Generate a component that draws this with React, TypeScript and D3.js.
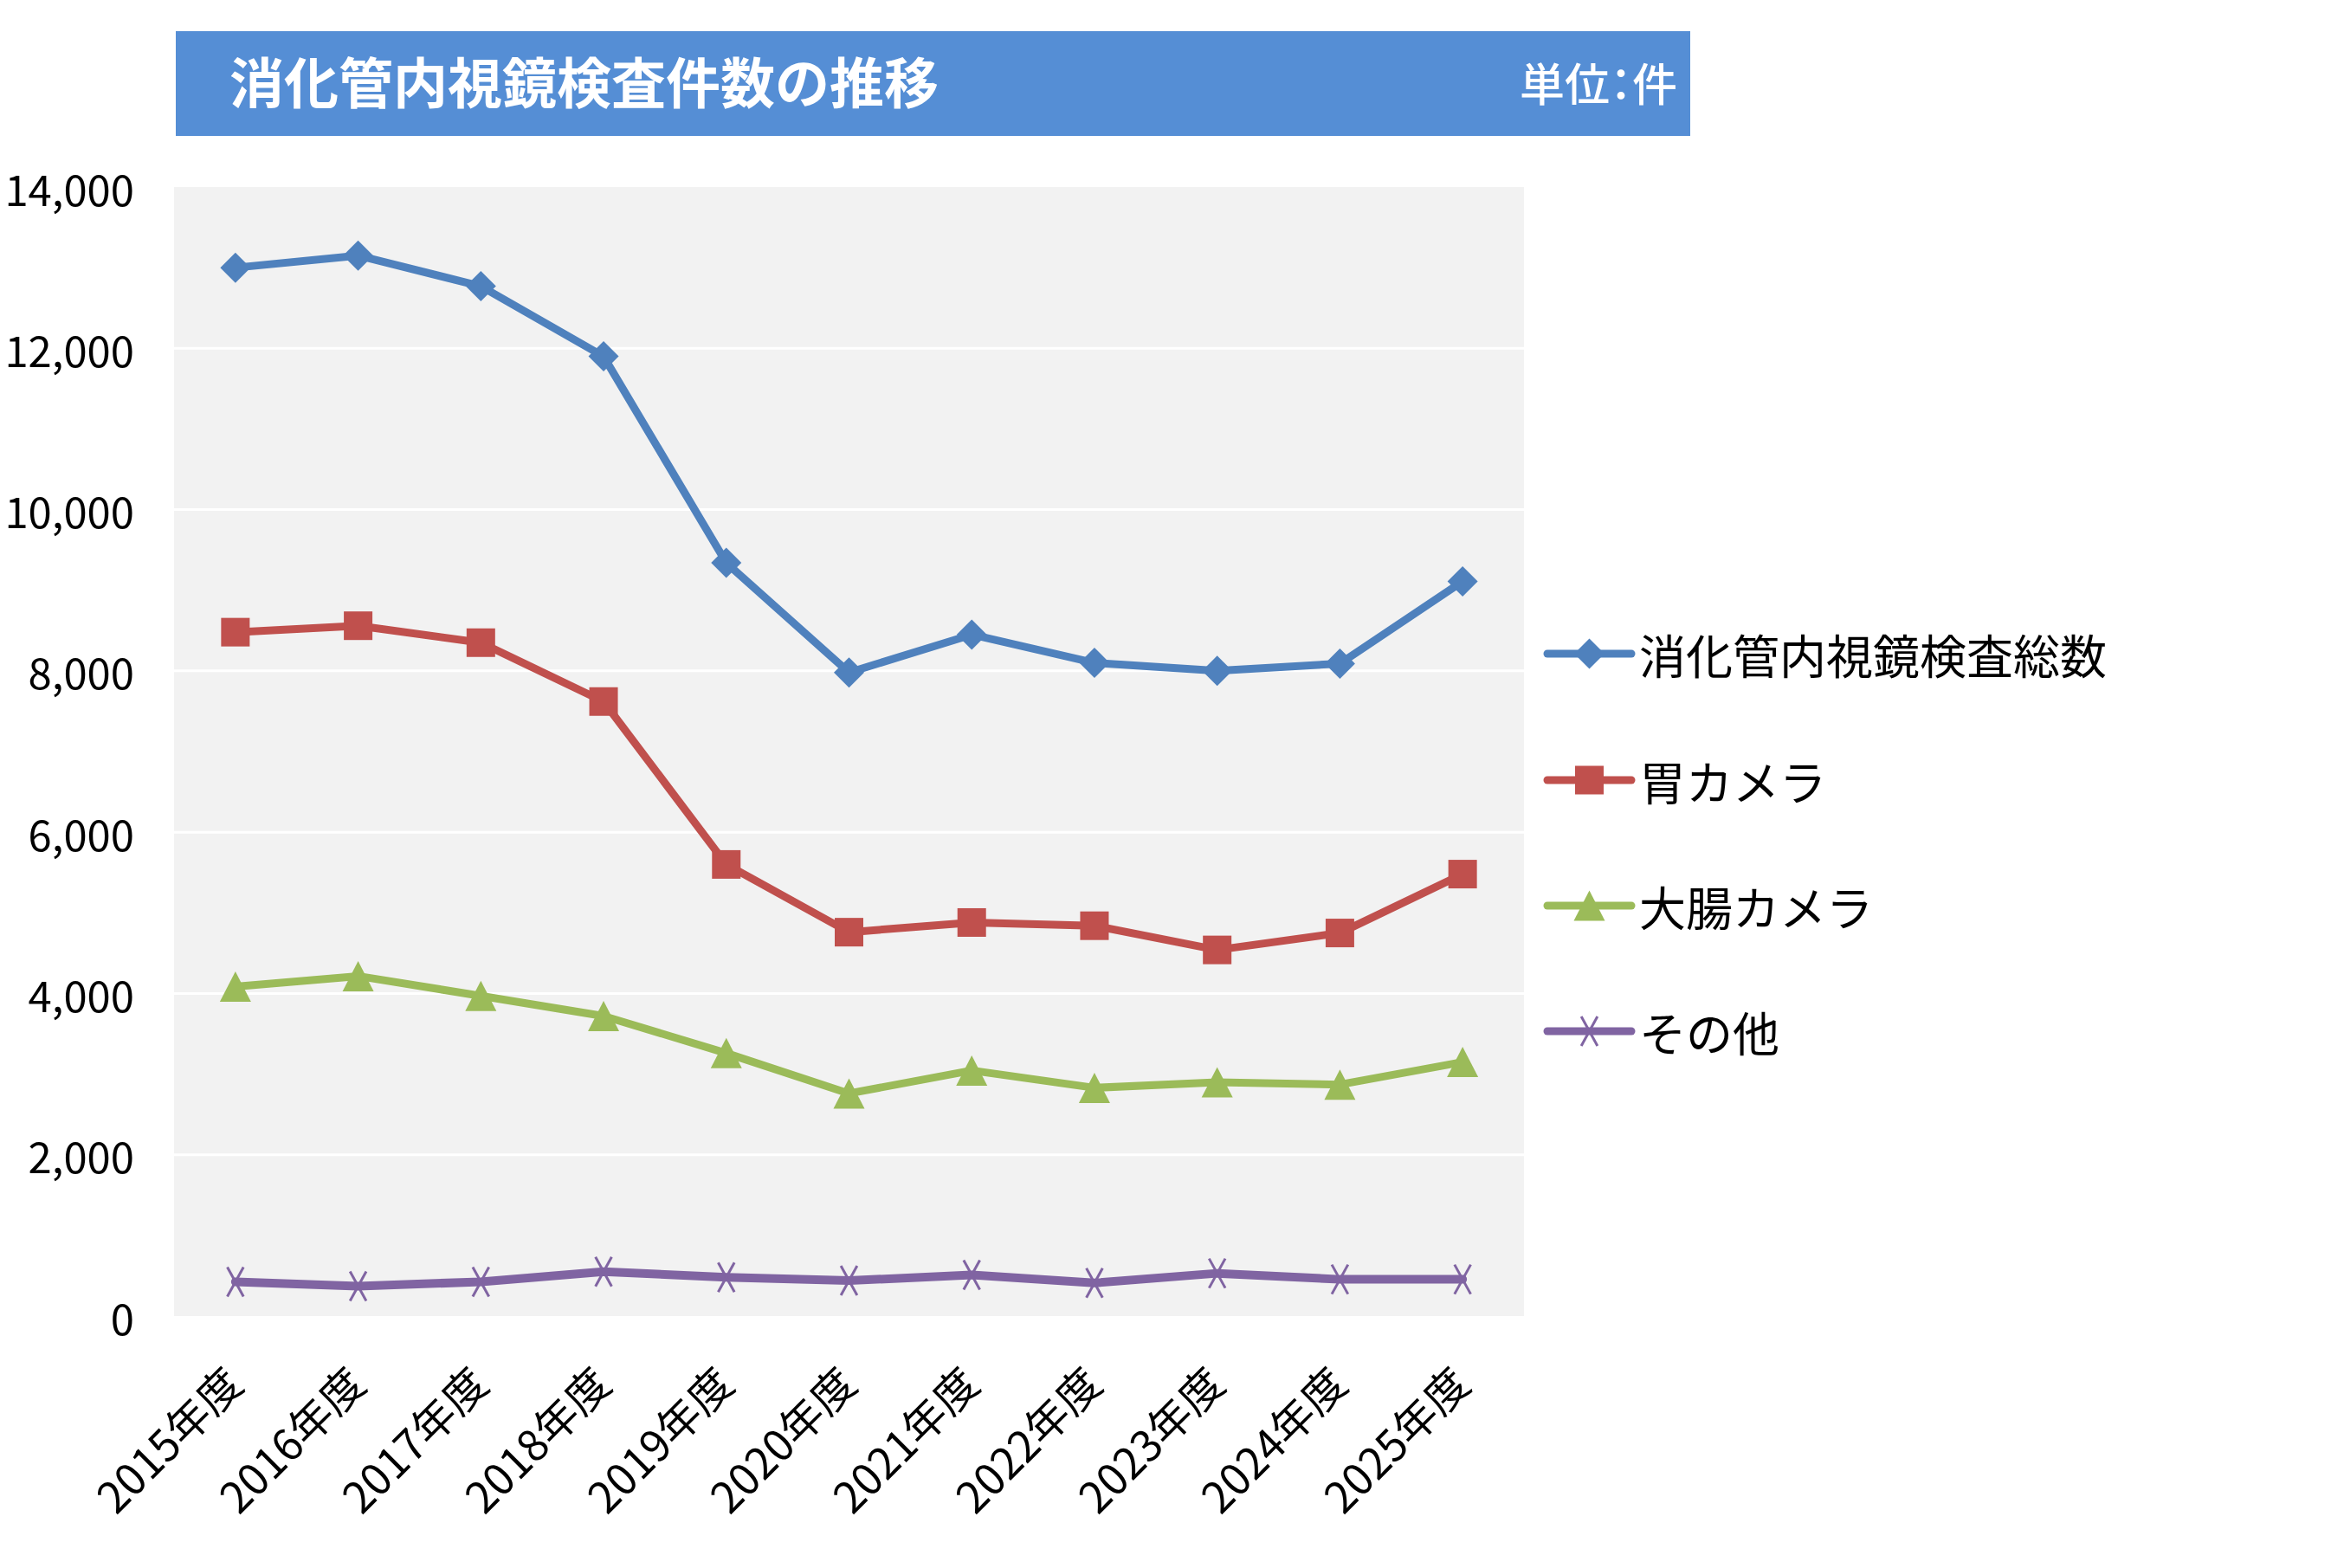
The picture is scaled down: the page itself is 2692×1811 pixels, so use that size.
import React from "react";
import * as d3 from "d3";

const categories = ["2015年度","2016年度","2017年度","2018年度","2019年度","2020年度","2021年度","2022年度","2023年度","2024年度","2025年度"];
const totalValues = [13000, 13150, 12770, 11900, 9340, 7980, 8450, 8100, 8000, 8090, 9110];
const stomachValues = [8480, 8560, 8350, 7620, 5600, 4760, 4880, 4840, 4540, 4750, 5480];
const colonValues = [4085, 4215, 3970, 3720, 3260, 2760, 3045, 2830, 2900, 2870, 3150];
const otherValues = [425, 370, 425, 550, 480, 440, 510, 410, 530, 455, 455];
const yTicks = [0, 2000, 4000, 6000, 8000, 10000, 12000, 14000];
const seriesNames = ["消化管内視鏡検査総数", "胃カメラ", "大腸カメラ", "その他"];
const titleText = "消化管内視鏡検査件数の推移";
const unitText = "単位：件";

const W = 2692, H = 1811;
const plot = { left: 201, right: 1760, top: 216, bottom: 1520 };
const FONT = "'Noto Sans CJK JP', 'Noto Sans', sans-serif";

const series = [
  { name: seriesNames[0], values: totalValues, color: "#4F81BD", marker: "diamond" },
  { name: seriesNames[1], values: stomachValues, color: "#C0504D", marker: "square" },
  { name: seriesNames[2], values: colonValues, color: "#9BBB59", marker: "triangle" },
  { name: seriesNames[3], values: otherValues, color: "#8064A2", marker: "x" },
];

function Marker({ type, x, y, color }: { type: string; x: number; y: number; color: string }) {
  if (type === "diamond") {
    const r = 17.5;
    return <path d={`M${x},${y - r}L${x + r},${y}L${x},${y + r}L${x - r},${y}Z`} fill={color} />;
  }
  if (type === "square") {
    const r = 16.5;
    return <rect x={x - r} y={y - r} width={2 * r} height={2 * r} fill={color} />;
  }
  if (type === "triangle") {
    const w = 18, h = 17.5;
    return <path d={`M${x},${y - h}L${x + w},${y + h}L${x - w},${y + h}Z`} fill={color} />;
  }
  const r = 17;
  return (
    <g stroke={color} strokeWidth={3}>
      <line x1={x - r * 0.55} y1={y - r} x2={x + r * 0.55} y2={y + r} />
      <line x1={x + r * 0.55} y1={y - r} x2={x - r * 0.55} y2={y + r} />
    </g>
  );
}

export default function App() {
  const x = d3.scalePoint<string>().domain(categories).range([plot.left, plot.right]).padding(0.5);
  const y = d3.scaleLinear().domain([0, 14000]).range([plot.bottom, plot.top]);
  const fmt = d3.format(",");
  const line = d3.line<number>().x((_, i) => x(categories[i]) as number).y((v) => y(v));

  const legendX0 = 1787, legendX1 = 1884, legendTextX = 1893;
  const legendYs = [755, 901, 1046, 1191];

  return (
    <svg width={W} height={H} style={{ position: "absolute", left: 0, top: 0, background: "#fff" }} fontFamily={FONT}>
      <rect x={0} y={0} width={W} height={H} fill="#fff" />
      {/* title bar */}
      <rect x={203} y={36} width={1749} height={121} fill="#558ED5" />
      <text x={265} y={91} fill="#fff" fontSize={63} fontWeight="bold" dominantBaseline="central">{titleText}</text>
      <text x={1937} y={94} fill="#fff" fontSize={52} fontWeight={500} textAnchor="end" dominantBaseline="central" style={{ fontFeatureSettings: "'palt'" }}>{unitText}</text>

      {/* plot area */}
      <rect x={plot.left} y={plot.top} width={plot.right - plot.left} height={plot.bottom - plot.top} fill="#F2F2F2" />
      {yTicks.filter((t) => t > 0 && t < 14000).map((t) => (
        <line key={t} x1={plot.left} x2={plot.right} y1={y(t)} y2={y(t)} stroke="#fff" strokeWidth={3} />
      ))}
      {yTicks.map((t) => (
        <text key={t} x={155} y={y(t)} fontSize={49} textAnchor="end" dominantBaseline="central" fill="#000">{fmt(t)}</text>
      ))}
      {categories.map((c) => {
        const cx = (x(c) as number) - 4;
        const cy = 1586;
        return (
          <text key={c} x={cx} y={cy} fontSize={50} textAnchor="end" dominantBaseline="central" fill="#000" transform={`rotate(-45 ${cx} ${cy})`}>{c}</text>
        );
      })}

      {/* series */}
      {series.map((s) => (
        <g key={s.name}>
          <path d={line(s.values) || ""} fill="none" stroke={s.color} strokeWidth={s.marker === "x" ? 10 : 9} strokeLinejoin="round" strokeLinecap="round" />
          {s.values.map((v, i) => (
            <Marker key={i} type={s.marker} x={x(categories[i]) as number} y={y(v)} color={s.color} />
          ))}
        </g>
      ))}

      {/* legend */}
      {series.map((s, i) => (
        <g key={s.name}>
          <line x1={legendX0} x2={legendX1} y1={legendYs[i]} y2={legendYs[i]} stroke={s.color} strokeWidth={9} strokeLinecap="round" />
          <Marker type={s.marker} x={(legendX0 + legendX1) / 2} y={legendYs[i]} color={s.color} />
          <text x={legendTextX} y={legendYs[i]} fontSize={54} dominantBaseline="central" fill="#000">{s.name}</text>
        </g>
      ))}
    </svg>
  );
}
